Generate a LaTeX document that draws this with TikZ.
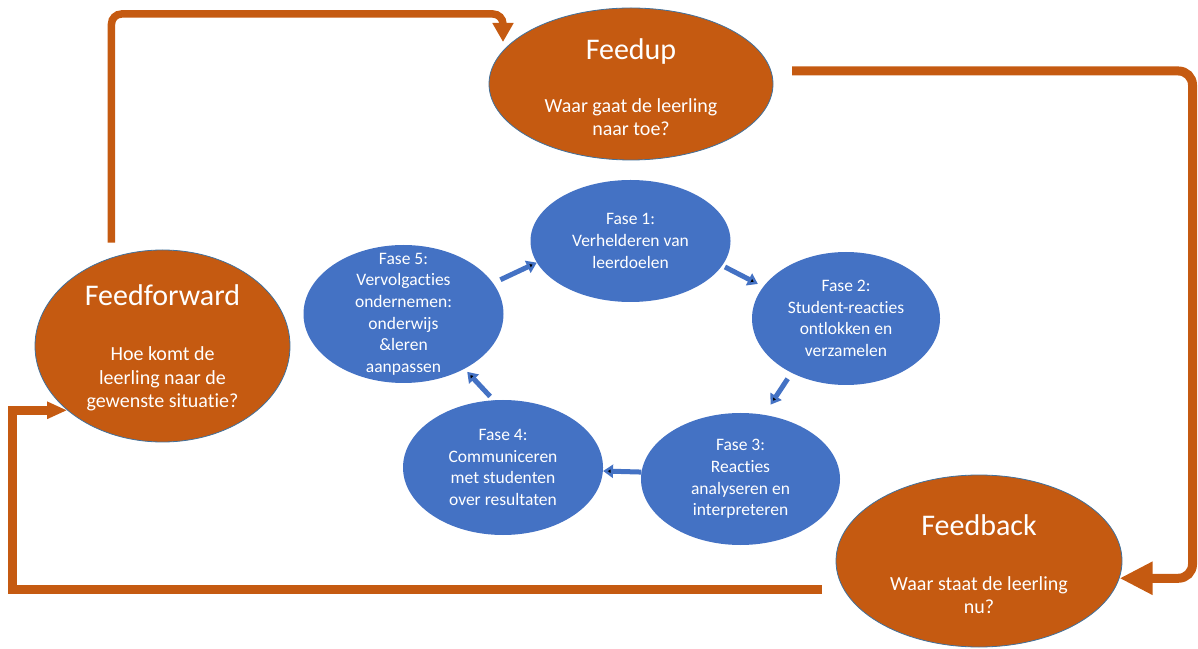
\documentclass[tikz,border=0pt]{standalone}
\usepackage{fontspec}
\setmainfont{Carlito}[Ligatures=NoCommon]
\usetikzlibrary{shapes.geometric,arrows.meta}
\definecolor{oranje}{HTML}{C55A11}
\definecolor{blauw}{HTML}{4472C4}
\definecolor{rand}{HTML}{41719C}

\begin{document}
\begin{tikzpicture}[x=1pt, y=1pt,
    big node/.style={ellipse, fill=oranje, draw=rand, line width=0.8pt, inner sep=0pt},
    fase node/.style={ellipse, fill=blauw, inner sep=0pt},
    title text/.style={text=white, font=\fontsize{30}{36}\selectfont},
    sub text/.style={text=white, align=center, font=\fontsize{20}{23.5}\selectfont},
    fase text/.style={text=white, align=center, font=\fontsize{17.5}{21.6}\selectfont},
    loop arrow/.style={draw=oranje, line width=9pt},
    flow/.style={draw=blauw, line width=5pt, -{Triangle[width=13pt,length=10pt]}}]
  \useasboundingbox (0,0) rectangle (1198,648);

  % outer cycle
  \node[big node, minimum width=284pt, minimum height=152pt] (up) at (631,564) {};
  \node[big node, minimum width=255pt, minimum height=192pt] (ff) at (162.5,302) {};
  \node[big node, minimum width=286pt, minimum height=172pt] (fb) at (979,87) {};
  \node[title text] (uptitle) at ([yshift=32.5pt]up.center) {Feedup};
  \node[sub text] (upsub) at ([yshift=-33pt]up.center) {Waar gaat de leerling\\naar toe?};
  \node[title text] (fftitle) at ([yshift=51pt]ff.center) {Feedforward};
  \node[sub text] (ffsub) at ([yshift=-33pt]ff.center) {Hoe komt de\\leerling naar de\\gewenste situatie?};
  \node[title text] (fbtitle) at ([yshift=36pt]fb.center) {Feedback};
  \node[sub text] (fbsub) at ([yshift=-34pt]fb.center) {Waar staat de leerling\\nu?};

  % inner cycle
  \node[fase node, minimum width=200pt, minimum height=122pt,
        label={[fase text]center:{Fase 1:\\Verhelderen van\\leerdoelen}}] (1) at (630.5,407) {};
  \node[fase node, minimum width=188pt, minimum height=133pt,
        label={[fase text]center:{Fase 2:\\Student-reacties\\ontlokken en\\verzamelen}}] (2) at (846,329.5) {};
  \node[fase node, minimum width=199pt, minimum height=132pt,
        label={[fase text]center:{Fase 3:\\Reacties\\analyseren en\\interpreteren}}] (3) at (740.5,169) {};
  \node[fase node, minimum width=200pt, minimum height=135pt,
        label={[fase text]center:{Fase 4:\\Communiceren\\met studenten\\over resultaten}}] (4) at (503,180.5) {};
  \node[fase node, minimum width=200pt, minimum height=138pt,
        label={[fase text]center:{Fase 5:\\Vervolgacties\\ondernemen:\\onderwijs\\\&leren\\aanpassen}}] (5) at (403.5,334) {};

  \path[flow]
    (5.19) edge[shorten <=8pt] (1.193)
    (1.-15) edge[shorten <=3pt, shorten >=6pt] (2.159)
    (2.225) edge[shorten <=7pt, shorten >=12pt] (3.70)
    (3.176) edge (4.-2.5)
    (4.98) edge[shorten <=5pt, shorten >=4pt] (5.-42);

  % big arrows
  \coordinate (a1) at (503,606);
  \coordinate (b0) at (792,577);
  \coordinate (c0) at (822,59);
  \draw[loop arrow, line width=7.5pt, rounded corners=10pt, shorten <=15pt,
        -{Triangle[width=20pt,length=19pt]}] (ff.120) |- ([yshift=28pt]a1) -- (a1);
  \draw[loop arrow, rounded corners=14pt,
        -{Triangle[width=31pt,length=33pt]}] (b0) -| ([xshift=73pt]fb.-7) -- (fb.-7);
  \draw[loop arrow, line join=miter,
        -{Triangle[width=16pt,length=20pt]}] (c0) -| ([xshift=-55pt]ff.214) -- (ff.214);
\end{tikzpicture}
\end{document}
